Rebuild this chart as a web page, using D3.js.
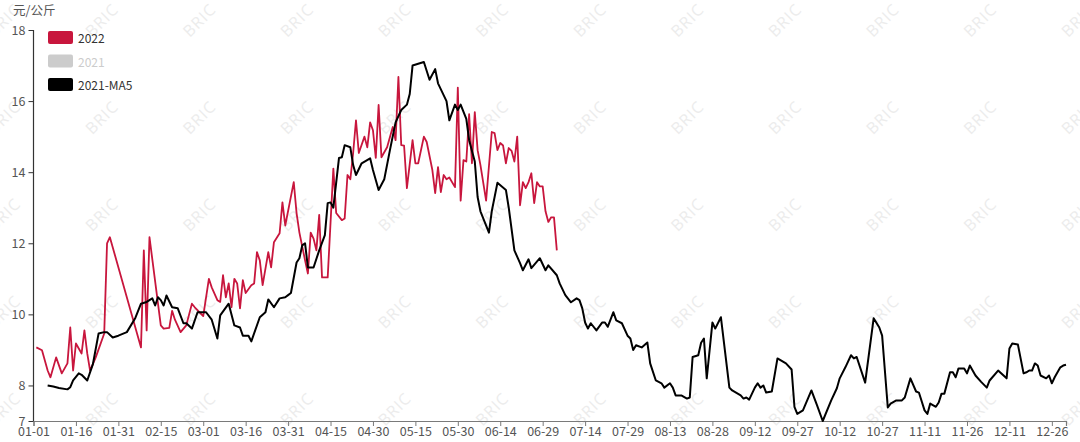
<!DOCTYPE html>
<html><head><meta charset="utf-8">
<script src="https://cdn.jsdelivr.net/npm/d3@7/dist/d3.min.js"></script>
<style>
body{margin:0;background:#fff;}
svg{display:block;font-family:"Noto Sans CJK SC","Noto Sans",sans-serif;}
</style>
</head><body>
<svg id="chart" width="1080" height="442"></svg>
<script>
// ---------- data ----------
const unitLabel = "元/公斤";
const legendNames = ["2022", "2021", "2021-MA5"];
const yTickValues = [7, 8, 10, 12, 14, 16, 18];
const xTickStep = 15;          // one label every 15 days on a 366-day (MM-DD) axis
const watermarkText = "BRIC";

const dates2022 = ["01-02","01-04","01-06","01-07","01-09","01-11","01-13","01-14","01-15","01-16","01-18","01-19","01-20","01-21","01-23","01-26","01-27","01-28",
"02-08","02-09","02-10","02-11","02-15","02-16","02-18","02-19","02-20","02-22","02-24","02-26","02-27",
"03-01","03-03","03-04","03-06","03-07","03-08","03-09","03-10","03-11","03-12","03-13","03-14","03-15","03-16","03-18","03-19","03-20","03-21","03-22","03-24","03-25","03-26","03-28","03-29","03-30",
"04-02","04-03","04-04","04-06","04-07","04-08","04-09","04-10","04-11","04-12","04-14","04-16","04-17","04-19","04-20","04-21","04-22","04-23","04-24","04-25","04-27","04-28","04-29",
"04-30","05-01","05-02","05-03","05-05","05-07","05-08","05-09","05-10","05-11","05-12","05-14","05-15","05-16","05-18","05-19","05-21","05-22","05-23","05-24","05-25","05-26","05-27","05-29","05-30",
"05-31","06-01","06-02","06-03","06-04","06-05","06-06","06-07","06-09","06-11","06-12","06-13","06-14","06-15","06-16","06-17","06-18","06-19","06-20","06-21","06-22","06-23","06-24","06-25","06-26","06-27","06-28","06-29",
"06-30","07-01","07-02","07-03","07-04"];
const values2022 = [9.07,8.99,8.42,8.23,8.79,8.34,8.62,9.63,8.42,9.18,8.9,9.55,8.9,8.42,8.79,9.46,12.0,12.17,
9.07,11.8,9.55,12.17,9.69,9.6,9.62,10.1,9.85,9.5,9.69,10.3,10.2,
9.95,11.0,10.76,10.4,10.35,11.1,10.48,10.87,10.2,11.0,10.87,10.17,10.96,10.6,10.82,10.87,11.75,11.52,10.82,11.75,11.32,12.03,12.28,13.15,12.5,
13.72,12.85,12.3,11.52,11.15,12.3,12.13,11.8,12.8,11.04,11.04,14.1,12.85,12.65,12.7,13.92,13.8,14.54,15.46,14.54,15.0,14.7,15.4,
15.18,14.4,15.89,14.42,14.7,15.27,14.9,16.68,14.76,14.75,13.55,14.9,14.25,14.25,15.0,14.85,14.06,13.41,14.14,13.44,13.92,13.8,13.85,13.58,16.38,
13.2,14.34,14.3,15.63,14.25,15.69,14.62,14.2,13.2,15.13,15.1,14.62,14.82,14.75,14.25,14.68,14.6,14.3,15.0,13.07,13.72,13.55,13.72,13.97,13.13,13.72,13.6,13.6,
12.9,12.6,12.73,12.73,11.8];

const datesMA5 = ["01-06","01-08","01-10","01-13","01-14","01-15","01-17","01-18","01-20","01-22","01-24","01-26","01-27","01-29","01-31",
"02-03","02-06","02-08","02-10","02-12","02-13","02-14","02-15","02-16","02-17","02-19","02-21","02-23","02-24","02-26","02-28",
"03-02","03-04","03-06","03-07","03-10","03-12","03-14","03-15","03-17","03-18","03-21","03-23","03-24","03-26","03-28","03-30",
"03-31","04-01","04-03","04-04","04-05","04-06","04-07","04-09","04-11","04-13","04-14","04-15","04-16","04-18","04-19","04-20","04-22","04-23","04-24","04-26","04-29",
"04-30","05-02","05-04","05-06","05-08","05-10","05-12","05-13","05-14","05-16","05-18","05-20","05-22","05-23","05-26","05-27","05-29","05-30",
"05-31","06-02","06-03","06-05","06-06","06-07","06-10","06-11","06-13","06-16","06-17","06-19","06-21","06-22","06-24","06-25","06-28",
"06-30","07-01","07-04","07-05","07-07","07-09","07-11","07-12","07-13","07-14","07-15","07-16","07-18","07-20","07-21","07-22","07-24","07-25","07-27","07-29","07-30",
"07-31","08-01","08-03","08-05","08-06","08-08","08-10","08-11","08-13","08-14","08-15","08-17","08-19","08-20","08-21","08-23","08-24","08-25","08-26","08-28","08-29",
"08-31","09-03","09-04","09-07","09-08","09-09","09-10","09-12","09-13","09-14","09-15","09-16","09-18","09-20","09-23","09-25","09-26","09-27","09-29",
"10-02","10-04","10-06","10-09","10-11","10-12","10-14","10-16","10-17","10-18","10-21","10-24","10-26","10-27","10-29","10-30",
"11-01","11-03","11-04","11-06","11-08","11-09","11-11","11-12","11-13","11-15","11-16","11-17","11-18","11-20","11-21","11-22","11-23","11-25","11-26","11-27","11-29",
"12-01","12-03","12-04","12-07","12-10","12-11","12-12","12-14","12-16","12-17","12-18","12-19","12-20","12-21","12-22","12-24","12-25","12-26","12-27","12-29","12-30","12-31"];
const valuesMA5 = [8.0,7.97,7.93,7.89,7.95,8.14,8.34,8.3,8.14,8.6,9.46,9.5,9.5,9.35,9.4,
9.5,9.9,10.3,10.35,10.45,10.25,10.48,10.4,10.25,10.53,10.2,10.17,9.75,9.75,9.6,10.06,
10.06,9.85,9.32,9.97,10.3,9.69,9.63,9.4,9.4,9.24,9.92,10.06,10.42,10.2,10.45,10.48,
10.54,10.6,11.46,11.58,11.94,12.0,11.32,11.32,11.8,12.23,13.13,13.15,13.0,14.4,14.42,14.76,14.7,14.2,13.92,14.25,14.39,
14.06,13.5,13.8,14.62,15.4,15.75,15.9,16.2,17.0,17.05,17.1,16.6,16.9,16.5,16.0,15.46,15.9,15.75,
15.9,15.5,14.9,14.3,13.3,12.9,12.3,12.9,13.7,13.5,13.0,11.8,11.44,11.24,11.55,11.3,11.58,
11.24,11.38,11.1,10.87,10.54,10.34,10.45,10.4,10.17,9.77,9.6,9.75,9.55,9.77,9.77,9.65,10.06,9.83,9.75,9.4,9.32,
9.0,9.13,9.07,9.21,8.62,8.14,8.06,7.94,8.06,7.94,7.72,7.72,7.63,7.66,8.8,8.85,9.2,9.32,8.2,9.77,9.6,
9.92,7.94,7.86,7.72,7.63,7.66,7.6,7.94,8.06,7.94,8.0,7.8,7.83,8.76,8.62,8.45,7.4,7.2,7.3,
7.86,7.44,7.0,7.58,7.92,8.2,8.51,8.85,8.76,8.8,8.08,9.89,9.63,9.4,7.38,7.49,
7.58,7.58,7.66,8.2,7.83,7.8,7.3,7.2,7.49,7.4,7.52,7.77,7.77,8.37,8.37,8.23,8.48,8.48,8.34,8.56,8.28,
8.1,7.94,8.14,8.42,8.2,9.04,9.18,9.15,8.34,8.37,8.42,8.42,8.62,8.56,8.28,8.2,8.28,8.06,8.23,8.51,8.56,8.58];

// ---------- helpers (MM-DD category axis built on a 366-day calendar) ----------
const axisYear = 2020;
const yearStart = new Date(axisYear, 0, 1);
const axisDays = d3.timeDay.count(yearStart, new Date(axisYear + 1, 0, 1)); // 366
function dayIndex(s) {
  const [m, d] = s.split("-").map(Number);
  return d3.timeDay.count(yearStart, new Date(axisYear, m - 1, d));
}
const fmt = d3.timeFormat("%m-%d");
function dayLabel(i) { return fmt(d3.timeDay.offset(yearStart, i)); }

const series2022 = dates2022.map((d, i) => ({ x: dayIndex(d), y: values2022[i] }));
const seriesMA5 = datesMA5.map((d, i) => ({ x: dayIndex(d), y: valuesMA5[i] }));

// ---------- layout ----------
const svg = d3.select("#chart");
const plotLeft = 33.5, plotRight = 1066, plotTop = 30, plotBottom = 421;

const x = d3.scaleLinear().domain([0, axisDays - 1]).range([plotLeft, plotRight]);
const y = d3.scaleLinear().domain([7, 18]).range([plotBottom, plotTop]);

// watermark
const wm = svg.append("g").attr("class", "watermark");
for (let i = 0; i < 12; i++) {
  for (let j = 0; j < 5; j++) {
    const cx = 4 + i * 97.6, cy = 20 + j * 97.2;
    wm.append("text")
      .attr("transform", `translate(${cx},${cy}) rotate(-45)`)
      .attr("text-anchor", "middle")
      .attr("dominant-baseline", "central")
      .attr("font-size", 16)
      .attr("font-family", "Open Sans, Noto Sans, sans-serif")
      .attr("letter-spacing", 1)
      .attr("fill", "#ececec")
      .text(watermarkText);
  }
}

// axes
const xTicks = d3.range(0, axisDays - 1, xTickStep);
const xAxis = d3.axisBottom(x).tickValues(xTicks.concat([axisDays - 1]))
  .tickFormat(d => d === axisDays - 1 ? "" : dayLabel(d)).tickSize(5).tickPadding(1);
const gx = svg.append("g").attr("transform", `translate(0,${plotBottom})`).call(xAxis);
gx.select(".domain").attr("stroke", "#7a7a7a").attr("stroke-width", 1.2);
gx.selectAll(".tick line").attr("stroke", "#7a7a7a");
gx.selectAll(".tick text").attr("fill", "#555").attr("font-size", 12.5)
  .attr("font-family", "Noto Sans CJK SC, sans-serif");

const yAxis = d3.axisLeft(y).tickValues(yTickValues).tickFormat(d3.format("d")).tickSize(5).tickPadding(3);
const gy = svg.append("g").attr("transform", `translate(${plotLeft},0)`).call(yAxis);
gy.select(".domain").attr("stroke", "#333").attr("stroke-width", 1.2)
  .attr("d", `M0,${plotTop}V${plotBottom}`);
gy.selectAll(".tick line").attr("stroke", "#333");
gy.selectAll(".tick text").attr("fill", "#555").attr("font-size", 12.5)
  .attr("font-family", "Noto Sans CJK SC, sans-serif");

// unit label
svg.append("text").attr("x", 13).attr("y", 15).attr("font-size", 12.5).attr("fill", "#555")
  .text(unitLabel);

// lines
const line = d3.line().x(d => x(d.x)).y(d => y(d.y));
svg.append("path").datum(series2022).attr("d", line)
  .attr("fill", "none").attr("stroke", "#c8163d").attr("stroke-width", 1.8).attr("stroke-linejoin", "round");
svg.append("path").datum(seriesMA5).attr("d", line)
  .attr("fill", "none").attr("stroke", "#000").attr("stroke-width", 2).attr("stroke-linejoin", "round");

// legend
const legendColors = ["#c8163d", "#cccccc", "#000000"];
const legendText = ["#333", "#cccccc", "#333"];
const lg = svg.append("g");
legendNames.forEach((n, i) => {
  const cy = 37.5 + i * 23.5;
  lg.append("rect").attr("x", 48).attr("y", cy - 6.5).attr("width", 25).attr("height", 13)
    .attr("rx", 2).attr("fill", legendColors[i]);
  lg.append("text").attr("x", 78).attr("y", cy).attr("dominant-baseline", "central")
    .attr("font-size", 12).attr("fill", legendText[i]).text(n);
});
</script>
</body></html>
